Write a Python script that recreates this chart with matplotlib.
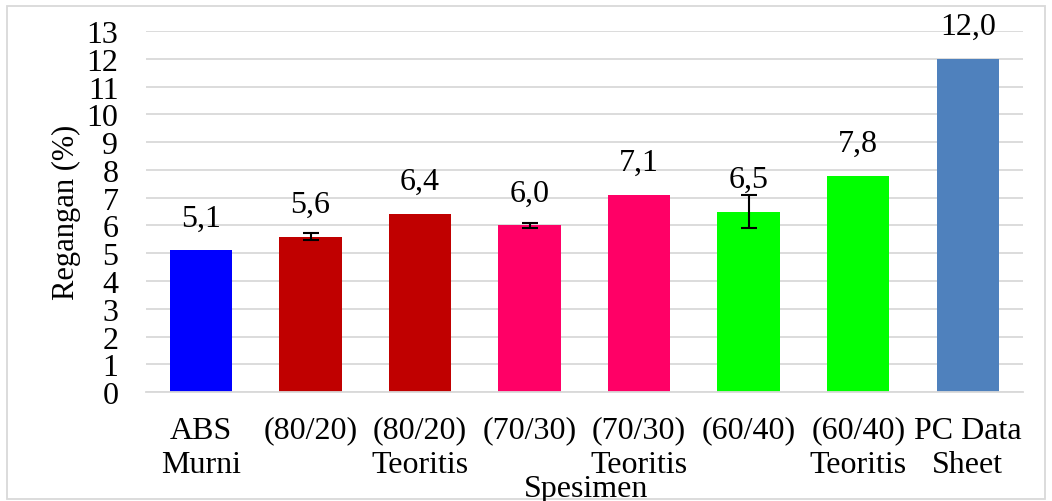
import matplotlib.pyplot as plt
from matplotlib.patches import Rectangle

plt.rcParams['font.family'] = ['Liberation Serif', 'DejaVu Serif']

# data
categories = ['ABS\nMurni', '(80/20)', '(80/20)\nTeoritis', '(70/30)', '(70/30)\nTeoritis',
              '(60/40)', '(60/40)\nTeoritis', 'PC Data\nSheet']
values = [5.1, 5.6, 6.4, 6.0, 7.1, 6.5, 7.8, 12.0]
errors = [0, 0.14, 0, 0.09, 0, 0.6, 0, 0]
colors = ['#0000FF', '#C00000', '#C00000', '#FF0066', '#FF0066', '#00FF00', '#00FF00', '#4F81BD']

fig = plt.figure(figsize=(10.52, 5.02), dpi=100)
ax = fig.add_axes([0.139, 0.217, 0.833, 0.719])

x = range(len(categories))
ax.bar(x, values, width=0.57, color=colors, zorder=2)
for i, (v, e) in enumerate(zip(values, errors)):
    if e > 0:
        ax.errorbar(i, v, yerr=e, fmt='none', ecolor='black', elinewidth=1.5,
                    capsize=6, capthick=1.5, zorder=3)
    ax.annotate(f'{v:.1f}'.replace('.', ','), (i, v), xytext=(0, 13),
                textcoords='offset points', ha='center', va='bottom', fontsize=23)

ax.set_xlim(-0.5, len(categories) - 0.5)
ax.set_ylim(0, 13)
ax.set_yticks(range(0, 14))
ax.set_xticks(list(x))
ax.set_xticklabels(categories, fontsize=23, linespacing=1.25)
ax.tick_params(axis='y', length=0, pad=20, labelsize=23)
ax.tick_params(axis='x', length=0, pad=17)
ax.grid(axis='y', color='#D9D9D9', linewidth=1.3, zorder=0)
for s in ['top', 'right', 'left']:
    ax.spines[s].set_visible(False)
ax.spines['bottom'].set_color('#D9D9D9')
ax.spines['bottom'].set_linewidth(1.3)

ax.set_ylabel('Regangan (%)', fontsize=22, labelpad=4)
fig.text(0.557, 0.025, 'Spesimen', ha='center', va='center', fontsize=23)

fig.patches.append(Rectangle((0.007, 0.004), 0.986, 0.982, transform=fig.transFigure,
                             fill=False, edgecolor='#D9D9D9', linewidth=1.3))

fig.savefig('out.png', dpi=100)
